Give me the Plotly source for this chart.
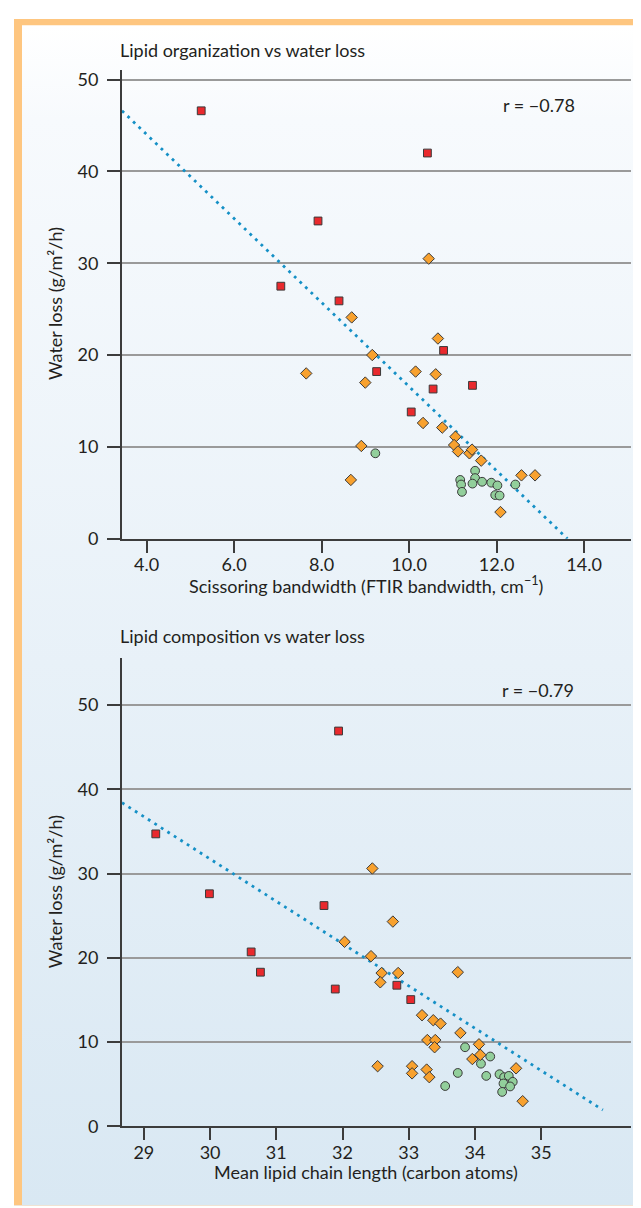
import base64
import plotly.graph_objects as go

W, H = 641, 1208

# ---------------- data: top panel (lipid organization) ----------------
org_red_x = [5.25, 10.42, 7.92, 7.07, 8.40, 10.79, 9.26, 10.55, 11.45, 10.05]
org_red_y = [46.6, 42.0, 34.6, 27.5, 25.9, 20.5, 18.2, 16.3, 16.7, 13.8]

org_orange_x = [10.45, 8.69, 7.65, 9.00, 8.91, 8.67, 10.66, 9.16, 10.15, 10.61,
                10.32, 10.76, 11.06, 11.03, 11.12, 11.38, 11.44, 11.65, 12.57,
                12.88, 12.09]
org_orange_y = [30.5, 24.1, 18.0, 17.0, 10.1, 6.4, 21.8, 20.0, 18.2, 17.9,
                12.6, 12.1, 11.1, 10.2, 9.5, 9.3, 9.7, 8.5, 6.9,
                6.9, 2.9]

org_green_x = [9.23, 11.51, 11.51, 11.17, 11.19, 11.21, 11.45, 11.67, 11.88,
               12.02, 11.97, 12.07, 12.43]
org_green_y = [9.3, 7.4, 6.6, 6.4, 5.9, 5.1, 6.0, 6.2, 6.1,
               5.8, 4.75, 4.7, 5.9]

org_fit_x = [3.44, 13.62]
org_fit_y = [46.6, 0.0]
org_r = "r = \u22120.78"

# ---------------- data: bottom panel (lipid composition) ----------------
comp_red_x = [31.94, 29.18, 29.99, 31.72, 30.62, 30.76, 31.89, 32.82, 33.03]
comp_red_y = [46.9, 34.7, 27.6, 26.2, 20.7, 18.3, 16.3, 16.75, 15.05]

comp_orange_x = [32.76, 32.03, 32.43, 32.59, 32.57, 32.84, 32.45, 32.53, 33.74,
                 33.20, 33.37, 33.48, 33.78, 33.28, 33.40, 33.39, 34.06, 34.08,
                 33.96, 33.05, 33.05, 33.27, 33.31, 34.62, 34.72]
comp_orange_y = [24.3, 21.9, 20.2, 18.2, 17.1, 18.2, 30.6, 7.15, 18.3,
                 13.2, 12.6, 12.2, 11.1, 10.25, 10.25, 9.4, 9.75, 8.5,
                 8.0, 7.15, 6.3, 6.75, 5.85, 6.9, 3.0]

comp_green_x = [33.85, 34.23, 34.09, 33.74, 34.17, 33.55, 34.37, 34.44, 34.51,
                34.57, 34.43, 34.53, 34.41]
comp_green_y = [9.4, 8.3, 7.45, 6.35, 6.0, 4.8, 6.2, 5.85, 6.0,
                5.3, 5.1, 4.75, 4.1]

comp_fit_x = [28.67, 35.93]
comp_fit_y = [38.4, 1.96]
comp_r = "r = \u22120.79"

# ---------------- ticks / labels ----------------
org_xticks = [4, 6, 8, 10, 12, 14]
org_xticktext = ["4.0", "6.0", "8.0", "10.0", "12.0", "14.0"]
comp_xticks = [29, 30, 31, 32, 33, 34, 35]
yticks = [0, 10, 20, 30, 40, 50]

title_top = "Lipid organization vs water loss"
title_bot = "Lipid composition vs water loss"
xtitle_top = "Scissoring bandwidth (FTIR bandwidth, cm<sup>\u22121</sup>)"
xtitle_bot = "Mean lipid chain length (carbon atoms)"
ytitle = "Water loss (g/m\u00b2/h)"

# ---------------- styling ----------------
FONT = "Lato, 'Noto Sans', sans-serif"
TXT = "#231f20"
RED = "#e9292d"
ORANGE = "#f8a12e"
GREEN = "#92cf9b"
EDGE = "#3a3a3a"
FIT = "#1590c6"


def px_x(p):
    return p / W


def px_y(p):
    return 1 - p / H


fig = go.Figure()


def add_panel(xa, ya, rx, ry, ox, oy, gx, gy, fx, fy):
    fig.add_trace(go.Scatter(x=fx, y=fy, mode="lines", xaxis=xa, yaxis=ya,
                             line=dict(color=FIT, width=2.8, dash="2.8px,4.9px"),
                             hoverinfo="skip", showlegend=False))
    fig.add_trace(go.Scatter(x=gx, y=gy, mode="markers", xaxis=xa, yaxis=ya,
                             marker=dict(symbol="circle", size=8.8, color=GREEN,
                                         line=dict(color=EDGE, width=1)),
                             showlegend=False))
    fig.add_trace(go.Scatter(x=ox, y=oy, mode="markers", xaxis=xa, yaxis=ya,
                             marker=dict(symbol="diamond", size=8.8, color=ORANGE,
                                         line=dict(color=EDGE, width=1)),
                             showlegend=False))
    fig.add_trace(go.Scatter(x=rx, y=ry, mode="markers", xaxis=xa, yaxis=ya,
                             marker=dict(symbol="square", size=7.8, color=RED,
                                         line=dict(color=EDGE, width=1)),
                             showlegend=False))


add_panel("x", "y", org_red_x, org_red_y, org_orange_x, org_orange_y,
          org_green_x, org_green_y, org_fit_x, org_fit_y)
add_panel("x2", "y2", comp_red_x, comp_red_y, comp_orange_x, comp_orange_y,
          comp_green_x, comp_green_y, comp_fit_x, comp_fit_y)

xdom = [px_x(114), px_x(623.3)]
ax_common = dict(showline=True, linecolor="#3c3c3c", linewidth=2,
                 ticks="outside", tickcolor="#3c3c3c", tickwidth=1.6,
                 zeroline=False, tickfont=dict(family=FONT, size=18, color=TXT))
xax = dict(ticklen=12, showgrid=False, ticklabelstandoff=-3, **ax_common)
yax = dict(ticklen=13, showgrid=True, gridcolor="#9a9a9a", gridwidth=1.5,
           tickvals=yticks, ticklabelstandoff=5, **ax_common)

fig.update_layout(
    width=W, height=H,
    margin=dict(l=0, r=0, t=0, b=0),
    paper_bgcolor="white", plot_bgcolor="white",
    font=dict(family=FONT, color=TXT),
    xaxis=dict(domain=xdom, range=[3.44, 15.08], tickvals=org_xticks,
               ticktext=org_xticktext, anchor="y", **xax),
    yaxis=dict(domain=[px_y(534), px_y(61)], range=[0, 51], anchor="x", **yax),
    xaxis2=dict(domain=xdom, range=[28.67, 36.36], tickvals=comp_xticks,
                anchor="y2", **xax),
    yaxis2=dict(domain=[px_y(1127.7), px_y(655)], range=[0, 55.5],
                anchor="x2", **yax),
)

# background gradient box + orange border
svg = ('<svg xmlns="http://www.w3.org/2000/svg" width="100" height="100" '
       'preserveAspectRatio="none" viewBox="0 0 100 100">'
       '<defs><linearGradient id="g" x1="0" y1="0" x2="0" y2="1">'
       '<stop offset="0" stop-color="#ffffff"/>'
       '<stop offset="0.08" stop-color="#f7fafd"/>'
       '<stop offset="1" stop-color="#d9e8f3"/>'
       '</linearGradient></defs>'
       '<rect width="100" height="100" fill="url(#g)"/></svg>')
src = "data:image/svg+xml;base64," + base64.b64encode(svg.encode()).decode()
fig.add_layout_image(dict(source=src, xref="paper", yref="paper",
                          x=px_x(14), y=px_y(15.5), sizex=1 - px_x(14),
                          sizey=px_y(15.5) - px_y(1207), xanchor="left",
                          yanchor="top", sizing="stretch", layer="below"))
fig.add_shape(type="rect", xref="paper", yref="paper", x0=px_x(6), x1=1,
              y0=px_y(15.5), y1=px_y(9), fillcolor="#fec680", line_width=0,
              layer="below")
fig.add_shape(type="rect", xref="paper", yref="paper", x0=px_x(6), x1=px_x(14),
              y0=px_y(1207), y1=px_y(9), fillcolor="#fec680", line_width=0,
              layer="below")
fig.add_shape(type="rect", xref="paper", yref="paper", x0=px_x(6), x1=1,
              y0=0, y1=px_y(1207), fillcolor="#f0e3d3", line_width=0,
              layer="below")


def ann(text, x, y, size=18, xanchor="center", angle=0):
    fig.add_annotation(text=text, x=px_x(x), y=px_y(y), xref="paper",
                       yref="paper", showarrow=False, xanchor=xanchor,
                       yanchor="middle", textangle=angle,
                       font=dict(family=FONT, size=size, color=TXT))


ann(title_top, 110, 40, xanchor="left")
ann(title_bot, 110, 632, xanchor="left")
ann(org_r, 493, 96, xanchor="left")
ann(comp_r, 492, 687, xanchor="left")
ann(xtitle_top, 358, 581)
ann(xtitle_bot, 358, 1174)
ann(ytitle, 47, 297, angle=-90)
ann(ytitle, 47, 891, angle=-90)

fig.write_html("out.html")
